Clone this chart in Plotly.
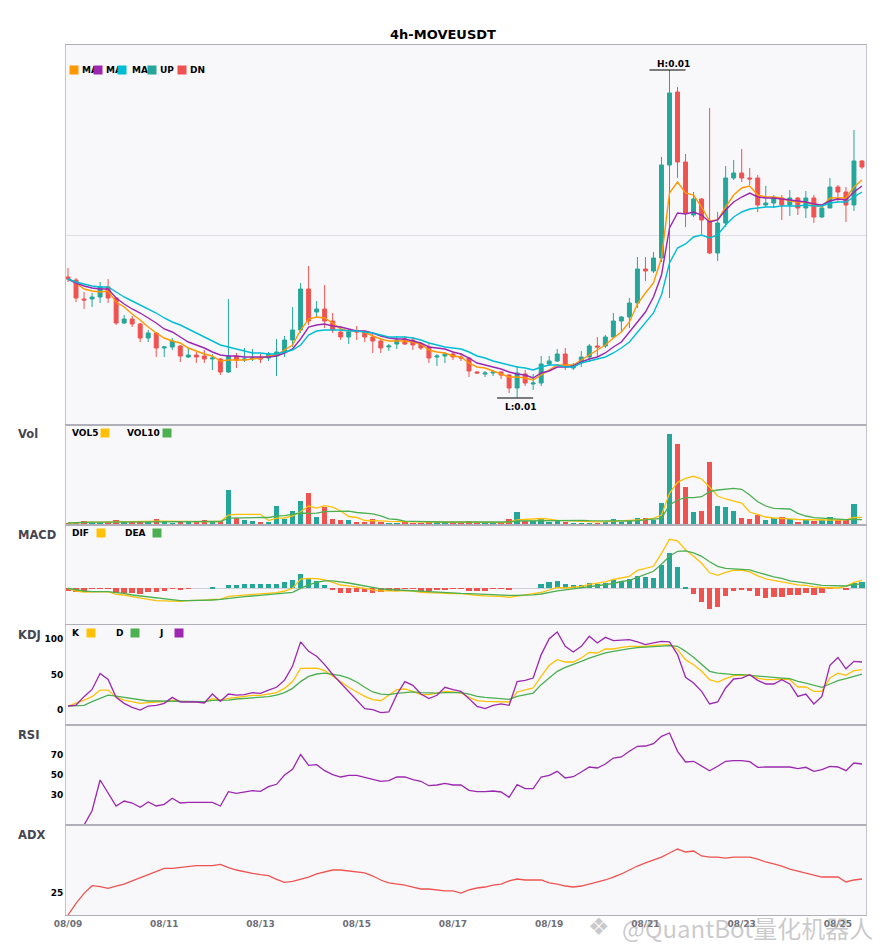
import numpy as np
import pandas as pd
import plotly.graph_objects as go
from plotly.subplots import make_subplots

# 4h candles of MOVEUSDT starting 2025-08-09 00:00
# prices and MACD values are written in units of 1e-5 USDT
candle_start = "2025-08-09 00:00"
price_unit = 1e-5

price_open = [916, 910, 872, 872, 876, 896, 874, 824, 832, 822,
              794, 804, 774, 776, 778, 756, 760, 758, 752, 752,
              726, 758, 750, 752, 754, 754, 758, 766, 790, 810,
              892, 846, 852, 828, 806, 796, 808, 806, 796, 788,
              776, 782, 792, 790, 782, 776, 756, 758, 762, 756,
              754, 726, 722, 724, 726, 720, 694, 722, 702, 704,
              742, 748, 762, 734, 746, 756, 778, 778, 796, 828,
              836, 864, 932, 928, 954, 1140, 1286, 1146, 1040, 1072,
              1028, 964, 1024, 1114, 1124, 1114, 1114, 1060, 1064, 1074,
              1060, 1074, 1054, 1074, 1036, 1054, 1096, 1086, 1060, 1148]
price_high = [934, 914, 886, 884, 906, 912, 876, 840, 838, 824,
              810, 806, 778, 794, 780, 774, 766, 770, 762, 754,
              872, 764, 774, 772, 762, 766, 792, 798, 856, 904,
              938, 868, 900, 844, 818, 812, 818, 810, 804, 794,
              782, 798, 798, 796, 786, 784, 762, 766, 766, 764,
              756, 728, 728, 730, 728, 722, 738, 730, 722, 758,
              758, 772, 774, 744, 768, 782, 796, 800, 844, 838,
              874, 956, 956, 966, 1156, 1330, 1296, 1162, 1086, 1074,
              1254, 1046, 1138, 1150, 1172, 1134, 1120, 1098, 1080, 1080,
              1090, 1076, 1088, 1080, 1056, 1114, 1100, 1096, 1210, 1150]
price_low = [906, 866, 852, 856, 864, 864, 820, 822, 816, 786,
             786, 756, 756, 770, 746, 754, 744, 744, 730, 720,
             724, 734, 746, 748, 744, 748, 718, 756, 776, 804,
             820, 836, 814, 804, 790, 782, 790, 786, 764, 764,
             768, 772, 780, 770, 770, 744, 738, 744, 750, 748,
             716, 722, 716, 718, 712, 684, 674, 698, 690, 698,
             738, 746, 730, 730, 736, 746, 756, 774, 794, 806,
             814, 854, 908, 924, 946, 874, 1114, 1016, 1036, 1002,
             962, 948, 1016, 1110, 1106, 1100, 1046, 1056, 1054, 1030,
             1038, 1040, 1034, 1024, 1034, 1054, 1066, 1026, 1048, 1132]
price_close = [912, 874, 870, 876, 896, 874, 824, 832, 822, 794,
               804, 774, 776, 788, 758, 760, 756, 752, 754, 726,
               758, 750, 752, 754, 752, 762, 766, 790, 810, 892,
               828, 852, 828, 810, 796, 806, 806, 796, 788, 774,
               778, 790, 782, 780, 774, 754, 758, 762, 756, 754,
               728, 724, 724, 726, 720, 694, 724, 704, 704, 742,
               748, 762, 736, 740, 756, 778, 776, 796, 828, 836,
               864, 932, 928, 954, 1140, 1284, 1146, 1044, 1072, 1030,
               964, 1024, 1114, 1124, 1114, 1112, 1060, 1064, 1074, 1060,
               1074, 1054, 1074, 1036, 1054, 1096, 1086, 1060, 1148, 1136]

ma5 = [912, 904, 892, 888, 886, 888, 866, 856, 842, 830,
       816, 804, 794, 788, 784, 774, 768, 762, 758, 748,
       750, 750, 750, 752, 754, 758, 760, 770, 780, 810,
       832, 836, 834, 824, 812, 808, 808, 806, 798, 792,
       788, 788, 788, 786, 782, 770, 766, 764, 758, 756,
       744, 736, 734, 728, 722, 716, 716, 714, 710, 720,
       730, 740, 740, 740, 750, 760, 770, 780, 794, 806,
       826, 862, 884, 904, 954, 1084, 1106, 1084, 1080, 1056,
       1028, 1030, 1056, 1080, 1094, 1098, 1080, 1076, 1076, 1074,
       1068, 1066, 1066, 1060, 1056, 1074, 1074, 1074, 1096, 1110]
ma10 = [912, 904, 898, 894, 892, 892, 874, 862, 852, 844,
        834, 824, 812, 806, 796, 786, 780, 774, 766, 760,
        758, 758, 756, 756, 756, 756, 758, 764, 772, 792,
        816, 820, 822, 818, 816, 812, 808, 808, 804, 798,
        794, 792, 792, 788, 784, 776, 774, 772, 766, 762,
        754, 744, 740, 736, 732, 726, 722, 720, 714, 724,
        728, 736, 736, 738, 746, 752, 756, 764, 776, 786,
        806, 826, 846, 876, 920, 1014, 1044, 1042, 1046, 1040,
        1026, 1030, 1050, 1066, 1076, 1084, 1076, 1074, 1074, 1072,
        1070, 1068, 1066, 1062, 1060, 1068, 1072, 1070, 1086, 1098]
ma20 = [912, 906, 902, 898, 896, 896, 886, 876, 868, 860,
        852, 844, 834, 826, 820, 812, 804, 796, 788, 780,
        776, 772, 768, 764, 764, 762, 762, 766, 770, 780,
        800, 808, 810, 810, 810, 808, 808, 806, 804, 800,
        796, 796, 796, 794, 790, 784, 780, 776, 774, 772,
        766, 758, 754, 748, 744, 740, 736, 734, 730, 736,
        740, 740, 736, 736, 744, 748, 752, 756, 764, 774,
        786, 806, 826, 844, 880, 944, 974, 982, 996, 1000,
        994, 1000, 1020, 1036, 1046, 1052, 1054, 1056, 1056, 1058,
        1058, 1058, 1060, 1058, 1058, 1064, 1066, 1066, 1076, 1086]

volume = [2.0, 2.7, 4.0, 3.0, 3.0, 2.7, 5.0, 4.0, 2.7, 3.3,
          3.0, 6.0, 3.7, 2.0, 3.7, 3.0, 2.7, 5.0, 3.0, 3.7,
          35.0, 6.7, 5.0, 4.0, 3.0, 3.3, 19.0, 5.7, 14.0, 24.0,
          32.3, 8.3, 18.3, 6.0, 5.0, 5.0, 3.0, 3.3, 6.0, 3.3,
          2.3, 2.3, 2.7, 2.3, 2.3, 4.0, 4.0, 2.7, 2.3, 2.3,
          4.0, 2.3, 2.3, 2.3, 2.3, 6.0, 13.0, 3.7, 3.7, 5.7,
          3.3, 3.7, 3.3, 2.0, 2.0, 2.3, 2.0, 2.7, 5.7, 3.3,
          5.0, 6.7, 6.7, 5.0, 22.0, 91.0, 81.0, 38.0, 13.0, 14.0,
          63.0, 19.0, 18.0, 14.0, 7.0, 6.0, 10.0, 5.0, 6.7, 8.0,
          6.0, 3.0, 5.0, 4.3, 5.0, 8.0, 5.0, 5.0, 21.0, 0.7]
vol5 = [2.0, 2.4, 2.9, 2.9, 2.9, 3.1, 3.5, 3.5, 3.5, 3.5,
        3.6, 3.8, 3.9, 3.7, 3.7, 3.7, 3.0, 3.3, 3.5, 3.5,
        9.9, 10.7, 10.7, 10.9, 10.7, 4.4, 6.9, 7.0, 9.0, 13.2,
        19.0, 16.9, 19.4, 17.8, 14.0, 8.5, 7.5, 4.5, 4.5, 4.1,
        3.6, 3.4, 3.3, 2.6, 2.4, 2.8, 3.1, 3.1, 3.1, 3.1,
        3.1, 2.7, 2.7, 2.7, 2.3, 3.0, 5.2, 5.5, 5.8, 6.5,
        5.9, 4.6, 4.3, 4.0, 3.3, 3.2, 3.2, 3.3, 3.6, 3.7,
        4.3, 5.0, 5.7, 6.7, 10.0, 31.7, 42.7, 46.7, 48.7, 46.0,
        38.0, 29.0, 26.0, 24.0, 22.0, 13.0, 10.5, 8.0, 7.0, 6.8,
        6.2, 5.5, 5.2, 5.0, 4.7, 5.0, 5.0, 5.2, 7.5, 7.7]
vol10 = [2.0, 2.4, 2.9, 2.9, 2.9, 2.9, 3.2, 3.3, 3.2, 3.2,
         3.3, 3.5, 3.5, 3.4, 3.5, 3.5, 3.5, 3.5, 3.5, 3.5,
         6.8, 7.1, 7.4, 7.5, 7.5, 7.5, 8.9, 9.3, 10.4, 12.0,
         11.7, 11.9, 13.3, 13.5, 13.6, 13.8, 12.5, 12.0, 11.1, 9.1,
         6.1, 5.5, 3.9, 3.6, 3.3, 3.2, 3.2, 3.0, 3.0, 2.9,
         2.9, 2.9, 2.9, 2.9, 3.0, 3.0, 4.0, 4.1, 4.2, 4.5,
         4.6, 4.8, 5.0, 5.0, 4.7, 4.3, 4.2, 3.9, 3.8, 3.8,
         4.0, 4.3, 5.0, 5.6, 6.7, 20.0, 25.0, 27.3, 27.3, 28.3,
         33.3, 35.0, 36.0, 36.7, 35.7, 30.0, 23.3, 19.0, 16.7, 16.0,
         16.0, 11.7, 9.0, 7.3, 6.7, 6.0, 5.7, 5.3, 5.7, 5.3]

macd_dif = [0, -5.4, -7.4, -7.4, -6.6, -6.6, -12, -13.4, -16.6, -20,
            -22, -24.6, -25.4, -25.4, -26, -24.6, -24.4, -23.6, -22.4, -22,
            -16, -14.6, -13.4, -12, -11.4, -10, -8.6, -5.4, 0, 18.6,
            20, 19.4, 16.6, 12, 6.6, 5, 3, 0, -3, -5,
            -5, -5.6, -4.6, -5.4, -8, -9, -9.6, -10, -10.6, -10.8,
            -13, -14, -15, -15.4, -16, -18, -15.4, -14, -11, -8,
            -3.4, 2, 0.6, 2, 4, 8, 10, 13, 17.6, 21,
            24, 36, 40, 44, 70, 98, 95, 77, 64, 50,
            31, 26, 32, 36, 36.6, 33, 25, 19, 16, 13,
            10, 7, 6, 3, 1.6, 0.4, 0.6, 4, 12, 16]
macd_dea = [0, -3.4, -5.4, -6.6, -6.6, -6.6, -8.6, -10, -13.4, -15.4,
            -18, -20, -22, -23.4, -24.6, -24.6, -24.4, -24, -23.4, -22.2,
            -20, -18.6, -16.6, -15.4, -14, -12.6, -11.4, -10, -8, 0,
            7, 12, 15, 15, 13.4, 10.6, 7.6, 4.4, 1, -1,
            -2.4, -3.4, -4, -5, -6, -6.6, -8, -9, -10, -10.2,
            -10.6, -11.4, -12.4, -13, -13.6, -14, -14, -14, -13, -11.4,
            -8, -5, -3, -1, 1, 3.4, 5.6, 8, 9.6, 13.6,
            16, 22, 28, 34, 48, 64, 74, 75, 71, 64,
            53, 44, 40, 38.6, 38, 37, 32, 27, 23, 20,
            15, 13, 10, 8.4, 6, 5.6, 5, 4.6, 8, 8.6]
macd_hist = [-4.6, -6.6, -6.6, -0.6, -0.6, -0.6, -8.6, -8.6, -10, -11.4,
             -6.6, -8, -5.4, -1.4, -2.6, -1.4, 0, 0, 2, 0,
             6, 6, 8, 8, 8, 8, 8, 12.6, 16.6, 28.6,
             18.6, 14.6, 6, -2, -8.6, -8.6, -6.6, -6.6, -8.6, -7.4,
             -4.6, -4.6, -1.4, -1.4, -4.6, -5.4, -3.4, -2, -1.4, -1.4,
             -5.4, -5.4, -5.4, -1.4, -1.4, -3.4, 0, 0, 0, 8.6,
             12.6, 15.4, 8, 6.6, 6, 10, 8.6, 10, 16.6, 14.6,
             18.6, 25.4, 22.6, 21.4, 46.6, 70.6, 42.6, 2.6, -10.6, -26.6,
             -42, -37.4, -14.6, -4.6, -2.6, -4.6, -14.6, -18.6, -17.4, -17.4,
             -12.6, -12.6, -8.6, -12.6, -8.6, -1.4, 0, -2.6, 10.6, 13.4]

kdj_k = [5.6, 9.4, 14, 18.8, 28, 28, 18, 14, 12, 9.4,
         10.3, 10.8, 11.7, 14, 12.2, 11.7, 11.7, 11.3, 16, 14,
         16.4, 17.8, 18.8, 20.7, 20.7, 22.5, 24.4, 30.5, 40, 58.7,
         59, 59, 55.4, 47.4, 39.4, 32, 25.4, 19.2, 14.6, 13.1,
         20.7, 28.6, 29.6, 26.3, 21.6, 21.6, 23.9, 26.3, 25.4, 23.9,
         17.8, 13.1, 12.2, 12.2, 12.2, 11.3, 25.4, 28.6, 31, 47.4,
         63, 70.9, 67.6, 67.6, 73.2, 81.2, 80.3, 85.9, 85.9, 88.3,
         89.7, 89.7, 89.7, 91, 92, 92, 85, 70.9, 63.8, 54.5,
         42.7, 39.4, 44.1, 48.4, 48.8, 49.8, 45, 42.7, 42.7, 43.7,
         42.7, 32.4, 32.4, 26.3, 26.3, 45, 52, 48.8, 55.4, 56.8]
kdj_d = [5.6, 6, 6.6, 11.7, 16.4, 21, 19.7, 17.8, 16.4, 13.6,
         12.7, 12.7, 12.7, 12.7, 12.7, 12.7, 12.7, 11.7, 13.6, 13.6,
         14, 15.5, 16.4, 17.4, 17.8, 18.8, 21, 24.4, 30.5, 40,
         47.4, 50.7, 52, 50.7, 48.4, 45, 39.4, 32, 25.4, 22.5,
         21.6, 23.5, 24.9, 25.4, 24.4, 23.9, 23.9, 24.4, 24.9, 24.4,
         22.5, 19.2, 17.8, 16.9, 16, 15, 19.2, 21.6, 23.9, 35.7,
         45, 54.5, 60, 63.8, 68.5, 73.2, 77, 80.3, 82.6, 85,
         86.4, 87.8, 88.3, 89.2, 90.1, 90.6, 89.7, 82.6, 74.2, 64.8,
         54.5, 52, 50.7, 49.8, 49.8, 48.8, 47.4, 46, 45, 45,
         44.1, 40.4, 38, 34.7, 32, 36.6, 41.3, 44.1, 47.4, 50.7]
kdj_j = [5.6, 7, 18.8, 29, 51.6, 43, 17.8, 9.4, 3.8, 0,
         5.6, 6.6, 9.4, 17.8, 11.3, 11.3, 11.3, 9.9, 22.5, 12.2,
         22.5, 21, 21.6, 24.4, 23.5, 28, 32, 42, 62, 96,
         82.6, 75.6, 64, 50, 38, 26, 13, 1.9, 0.5, -3.8,
         -2.8, 21.6, 40, 34.7, 22.5, 16, 20.7, 32, 28.6, 26.3,
         16, 5.2, 1.9, 6.6, 8.5, 6.6, 40, 41.8, 45, 78,
         100.5, 110, 89.7, 81.7, 89.7, 103.8, 94.4, 102.3, 97.7, 98,
         99, 95.8, 92, 94.4, 96.7, 95.8, 78, 46, 38, 26.3,
         8.5, 11.3, 31, 43.7, 45, 49.8, 41.8, 36.6, 36.6, 42.7,
         36.6, 19.2, 22.5, 8.5, 19.2, 63, 74, 58, 68.5, 67.6]

rsi = [None, None, 0, 14.3, 45, 31.7, 19, 24, 22, 17.7,
       23, 19, 20.7, 26.7, 22, 22.7, 22.7, 22, 22.7, 19,
       33.3, 31.7, 33.3, 34.3, 33.7, 38.3, 40.7, 50, 55.7, 70.5,
       59.7, 60.3, 54.3, 50.3, 48, 49.7, 49.7, 47.7, 46.3, 43.7,
       44.3, 48, 48, 45.3, 43.7, 39.3, 40, 41.7, 40, 40,
       34.7, 33.3, 33.3, 34, 33, 27.7, 40.3, 36.3, 36.3, 48,
       49.7, 53.7, 47, 48.3, 53, 58, 57, 61, 67, 68,
       73.7, 78.7, 79, 81.3, 88.7, 92, 73.7, 63, 63.7, 58.7,
       54.3, 58.7, 63.7, 64.3, 64.3, 63.3, 57.7, 58, 58, 57.7,
       58, 56.3, 57.7, 53.7, 55.3, 58.7, 58, 54.3, 62, 61]
adx = [0, 13, 24, 32.6, 31.5, 29.6, 32.2, 34.4, 37.8, 41.5,
       44.4, 48.9, 51.9, 51.9, 53, 54.4, 54.8, 54.8, 54.8, 56.3,
       52.6, 50, 47.8, 46.3, 44.8, 43.7, 39.6, 36.3, 37.4, 39.6,
       42, 45.6, 47.8, 50, 50, 48.9, 47.8, 46.7, 43.3, 38.9,
       35.6, 34.4, 33.3, 31.1, 28.9, 28.9, 27.8, 26.7, 26.7, 24.4,
       27.8, 30, 31.1, 33.3, 34.4, 37.8, 40, 38.9, 38.9, 38.9,
       35.6, 34.4, 32.2, 31.1, 32.2, 34.4, 36.7, 38.9, 42.2, 45.6,
       50, 54.4, 57.8, 61.1, 64.4, 68.9, 73.3, 70, 71.1, 65.6,
       64.4, 64.4, 63.3, 64.4, 64.4, 64.4, 62.2, 58.9, 56.7, 54.4,
       51.1, 48.9, 46.7, 44.4, 42.2, 42.2, 42.2, 36.7, 38.9, 40]

tick_dates = ["2025-08-09", "2025-08-11", "2025-08-13", "2025-08-15", "2025-08-17",
              "2025-08-19", "2025-08-21", "2025-08-23", "2025-08-25"]
tick_labels = ["08/09", "08/11", "08/13", "08/15", "08/17", "08/19", "08/21", "08/23", "08/25"]

kdj_levels = [100, 50, 0]
rsi_levels = [70, 50, 30]
adx_levels = [25]

UP = "#26A69A"
DN = "#EF5350"
C_MA5, C_MA10, C_MA20 = "#FF9800", "#9C27B0", "#00BCD4"
C_YEL, C_GRN, C_PUR = "#FFC107", "#4CAF50", "#9C27B0"
LEVEL_COLORS = {"hi": "#8fd6cd", "mid": "#cfcfd6", "lo": "#f6b0b0"}
FONT = "DejaVu Sans"

t = pd.date_range(candle_start, periods=len(price_close), freq="4h")
o = np.array(price_open) * price_unit
h = np.array(price_high) * price_unit
l = np.array(price_low) * price_unit
c = np.array(price_close) * price_unit
candle_col = np.where(c >= o, UP, DN)
bar_w = 4 * 3600 * 1000 * 0.68

fig = make_subplots(rows=6, cols=1, shared_xaxes=True, vertical_spacing=0,
                    row_heights=[380, 100, 100, 100, 100, 90])

fig.add_trace(go.Candlestick(x=t, open=o, high=h, low=l, close=c,
                             increasing=dict(line=dict(color=UP, width=1), fillcolor=UP),
                             decreasing=dict(line=dict(color=DN, width=1), fillcolor=DN),
                             showlegend=False), row=1, col=1)
for vals, col in [(ma5, C_MA5), (ma10, C_MA10), (ma20, C_MA20)]:
    fig.add_trace(go.Scatter(x=t, y=np.array(vals) * price_unit, mode="lines",
                             line=dict(color=col, width=1.4), showlegend=False), row=1, col=1)

# volume
fig.add_trace(go.Bar(x=t, y=volume, marker=dict(color=candle_col, line_width=0),
                     width=bar_w, showlegend=False), row=2, col=1)
fig.add_trace(go.Scatter(x=t, y=vol5, mode="lines", line=dict(color=C_YEL, width=1.3),
                         showlegend=False), row=2, col=1)
fig.add_trace(go.Scatter(x=t, y=vol10, mode="lines", line=dict(color=C_GRN, width=1.3),
                         showlegend=False), row=2, col=1)

# macd
hist = np.array(macd_hist) * price_unit
fig.add_trace(go.Bar(x=t, y=hist, marker=dict(color=np.where(hist >= 0, UP, DN), line_width=0),
                     width=bar_w, showlegend=False), row=3, col=1)
fig.add_trace(go.Scatter(x=t, y=np.array(macd_dif) * price_unit, mode="lines",
                         line=dict(color=C_YEL, width=1.3), showlegend=False), row=3, col=1)
fig.add_trace(go.Scatter(x=t, y=np.array(macd_dea) * price_unit, mode="lines",
                         line=dict(color=C_GRN, width=1.3), showlegend=False), row=3, col=1)

# kdj / rsi / adx
level_style = ["hi", "mid", "lo"]
for lv, st in zip(kdj_levels, level_style):
    fig.add_hline(y=lv, line=dict(color=LEVEL_COLORS[st], width=1), row=4, col=1)
for lv, st in zip(rsi_levels, level_style):
    fig.add_hline(y=lv, line=dict(color=LEVEL_COLORS[st], width=1), row=5, col=1)
for lv in adx_levels:
    fig.add_hline(y=lv, line=dict(color="#dcaae6", width=1), row=6, col=1)

for vals, col in [(kdj_k, C_YEL), (kdj_d, C_GRN), (kdj_j, C_PUR)]:
    fig.add_trace(go.Scatter(x=t, y=vals, mode="lines", line=dict(color=col, width=1.3),
                             showlegend=False), row=4, col=1)
fig.add_trace(go.Scatter(x=t, y=rsi, mode="lines", line=dict(color=C_PUR, width=1.3),
                         showlegend=False), row=5, col=1)
fig.add_trace(go.Scatter(x=t, y=adx, mode="lines", line=dict(color="#EF5350", width=1.3),
                         showlegend=False), row=6, col=1)

# high / low markers
hi_i, lo_i = int(np.argmax(h)), int(np.argmin(l))
hrs = pd.Timedelta(hours=1)
for idx, val, label, shift in [(hi_i, h[hi_i], f"H:{h[hi_i]:.2f}", 6),
                               (lo_i, l[lo_i], f"L:{l[lo_i]:.2f}", -9)]:
    fig.add_shape(type="line", xref="x", yref="y", x0=t[idx] - 10 * hrs, x1=t[idx] + 8 * hrs,
                  y0=val, y1=val, line=dict(color="black", width=1))
    fig.add_annotation(x=t[idx] + 2 * hrs, y=val, xref="x", yref="y", text=label,
                       showarrow=False, yshift=shift,
                       font=dict(family=FONT, size=9, color="black", weight="bold"))

# the page puts the figure 8px in from the top-left corner
OFF = 8
W, H = 885 - OFF, 950 - OFF
ML, MR, MT, MB = 66 - OFF, 19, 45 - OFF, 35
PLOT_L, PLOT_R, PLOT_T, PLOT_B = 66, 866, 45, 915  # plot area in page pixels


def px(x):
    return (x - PLOT_L) / (PLOT_R - PLOT_L)


def py(y):
    return (PLOT_B - y) / (PLOT_B - PLOT_T)


def text_note(s, x, y, size=9, color="black"):
    fig.add_annotation(x=px(x), y=py(y), xref="paper", yref="paper", text=s, showarrow=False,
                       xanchor="left", yanchor="middle",
                       font=dict(family=FONT, size=size, color=color, weight="bold"))


def square(x, y, col):
    fig.add_annotation(x=px(x + 4), y=py(y), xref="paper", yref="paper", text=" ",
                       showarrow=False, width=8, height=8, bgcolor=col, borderpad=0,
                       xanchor="center", yanchor="middle", font=dict(size=1))


# main legend (fixed-width entries, so the next swatch runs over the text)
for sx, tx, col, name in [(70, 80, C_MA5, "MA"), (94, 104, C_MA10, "MA"),
                          (118, 130, C_MA20, "MA"), (148, 158, UP, "UP"), (178, 188, DN, "DN")]:
    square(sx, 70, col)
    text_note(name, tx, 70, size=9)

# panel legends
for items, yy in [([("VOL5", 70, C_YEL, 101), ("VOL10", 125, C_GRN, 163)], 433),
                  ([("DIF", 70, C_YEL, 97), ("DEA", 123, C_GRN, 153)], 533),
                  ([("K", 70, C_YEL, 87), ("D", 114, C_GRN, 131), ("J", 157, C_PUR, 175)], 633)]:
    for name, tx, col, sx in items:
        text_note(name, tx, yy, size=9)
        square(sx, yy, col)

for name, yy in [("Vol", 434), ("MACD", 535), ("KDJ", 635), ("RSI", 735), ("ADX", 835)]:
    text_note(name, 16, yy, size=11.5, color="#464650")

# watermark
mark_col = "rgba(150,150,155,0.5)"
fig.add_annotation(x=px(586), y=py(927), xref="paper", yref="paper", text="❖",
                   showarrow=False, xanchor="left", yanchor="middle",
                   font=dict(family=FONT, size=24, color=mark_col))
fig.add_annotation(x=px(620), y=py(927), xref="paper", yref="paper", text="@QuantBot量化机器人",
                   showarrow=False, xanchor="left", yanchor="middle",
                   font=dict(family="Noto Sans CJK SC", size=24, color=mark_col))

fig.update_xaxes(showline=True, linecolor="#b0b0b8", linewidth=1, mirror=True, showgrid=False,
                 zeroline=False, range=[t[0] - hrs, t[-1] + 2 * hrs],
                 tickvals=pd.to_datetime(tick_dates), ticktext=tick_labels, ticks="",
                 rangeslider_visible=False,
                 tickfont=dict(family=FONT, size=9, color="#6e6e78", weight="bold"))
fig.update_yaxes(showline=True, linecolor="#c4c4cc", linewidth=1, mirror=True, showgrid=False,
                 zeroline=False, ticks="", showticklabels=False,
                 tickfont=dict(family=FONT, size=9, color="black", weight="bold"))
fig.update_yaxes(range=[0.0062, 0.0138], tickvals=[0.01], showgrid=True, gridcolor="#dedee4",
                 row=1, col=1)
fig.update_yaxes(range=[0, 100], row=2, col=1)
fig.update_yaxes(range=[-73.4e-5, 126.6e-5], zeroline=True, zerolinecolor="#cfcfd6",
                 zerolinewidth=1, row=3, col=1)
fig.update_yaxes(range=[-21.1, 119.7], tickvals=kdj_levels, showticklabels=True, row=4, col=1)
fig.update_yaxes(range=[0, 100], tickvals=rsi_levels, showticklabels=True, row=5, col=1)
fig.update_yaxes(range=[0, 100], tickvals=adx_levels, showticklabels=True, row=6, col=1)

fig.update_layout(
    width=W, height=H,
    margin=dict(l=ML, r=MR, t=MT, b=MB),
    paper_bgcolor="white", plot_bgcolor="#f8f8fb",
    bargap=0, showlegend=False,
    title=dict(text="4h-MOVEUSDT", x=(443 - OFF) / W, xanchor="center",
               y=1 - (34 - OFF) / H, yanchor="middle",
               font=dict(family=FONT, size=13, color="black", weight="bold")),
    font=dict(family=FONT),
)

fig.write_html("out.html")
